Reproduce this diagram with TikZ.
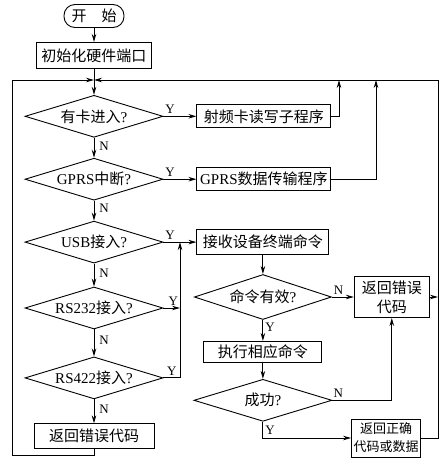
\documentclass[tikz,border=0pt]{standalone}
\usepackage{fontspec}
\setmainfont{Liberation Serif}
\newfontfamily\cjk{Noto Sans CJK SC}
\usetikzlibrary{arrows.meta,positioning,shapes.geometric}

\begin{document}
\begin{tikzpicture}[x=1pt,y=-1pt,line width=0.9pt,node distance=20pt and 33pt,
 box/.style={draw,align=center,minimum height=23pt,inner sep=2pt,font=\fontsize{15}{19}\selectfont},
 test/.style={draw,diamond,aspect=3.3,minimum width=138pt,minimum height=42pt,inner sep=1pt,font=\fontsize{15}{17}\selectfont},
 lbl/.style={font=\fontsize{13}{15}\selectfont,inner sep=2pt},
 >={Stealth[length=8pt,width=4.5pt]}]
\useasboundingbox (0,0) rectangle (446,464);
% left column
\node[draw,rounded corners=11pt,minimum width=60pt,minimum height=23pt,font=\fontsize{15}{17}\selectfont] (start) at (94,16) {\cjk 开\quad 始};
\node[box,minimum width=115pt,minimum height=26pt,below=14pt of start] (init) {\cjk 初始化硬件端口};
\node[test,below=26pt of init] (card) {{\cjk 有卡进入}?};
\node[test,below=20pt of card] (gprs) {GPRS{\cjk 中断}?};
\node[test,below=20pt of gprs] (usb) {USB{\cjk 接入}?};
\node[test,below=23pt of usb] (rsa) {RS232{\cjk 接入}?};
\node[test,below=27pt of rsa] (rsb) {RS422{\cjk 接入}?};
\node[box,minimum width=120pt,minimum height=25pt,below=24pt of rsb] (errL) {\cjk 返回错误代码};
% right column
\node[box,minimum width=134pt,right=of card] (rfid) {\cjk 射频卡读写子程序};
\node[box,minimum width=134pt,right=of gprs] (trans) {GPRS{\cjk 数据传输程序}};
\node[box,minimum width=132pt,minimum height=25pt,right=of usb] (recv) {\cjk 接收设备终端命令};
\node[test,minimum width=137pt,minimum height=45pt,below=19pt of recv] (valid) {{\cjk 命令有效}?};
\node[box,minimum width=118pt,minimum height=21pt,below=21pt of valid] (exec) {\cjk 执行相应命令};
\node[test,below=16pt of exec] (succ) {{\cjk 成功}?};
\node[box,minimum width=75pt,minimum height=41pt,right=22pt of valid] (errR) {{\cjk 返回错误}\\{\cjk 代码}};
\node[box,minimum width=69pt,minimum height=38pt,font=\fontsize{13}{18}\selectfont] (done) at (386,438) {{\cjk 返回正确}\\{\cjk 代码或数据}};
% loop corners
\coordinate (merge) at (94,80);
\coordinate (ltop) at (12,80);
\coordinate (lbot) at (12,455);
\coordinate (rtop) at (438,80);
\coordinate (up1) at (339,80);
\coordinate (up2) at (376,80);
\coordinate (join) at (180,0);
% connectors
\draw[->] (start) -- (init);
\draw[->] (init) -- (card);
\draw[->] (card) -- node[lbl,right,xshift=3pt,pos=0.4]{N} (gprs);
\draw[->] (gprs) -- node[lbl,right,xshift=3pt,pos=0.4]{N} (usb);
\draw[->] (usb) -- node[lbl,right,xshift=3pt,pos=0.4]{N} (rsa);
\draw[->] (rsa) -- node[lbl,right,xshift=3pt,pos=0.4]{N} (rsb);
\draw[->] (rsb) -- node[lbl,right,xshift=3pt,pos=0.4]{N} (errL);
\draw[->] (card) -- node[lbl,above,pos=0.2]{Y} (rfid);
\draw[->] (gprs) -- node[lbl,above,pos=0.2]{Y} (trans);
\draw[->] (usb) -- node[lbl,above,pos=0.2]{Y} (recv);
\draw[->] (rsa.east) -- node[lbl,above,pos=0.6]{Y} (rsa.east -| join);
\draw[->] (rsb.east) -| node[lbl,above,pos=0.25]{Y} (join |- usb.east);
\draw[->] (rfid.east) -| (up1);
\draw[->] (trans.east) -| (up2);
\draw[->] (recv) -- (valid);
\draw[->] (valid) -- node[lbl,above,pos=0.3]{N} (errR);
\draw[->] (valid) -- node[lbl,right,pos=0.35]{Y} (exec);
\draw[->] (exec) -- (succ);
\draw[->] (succ.east) -| node[lbl,above,pos=0.05]{N} (errR.south);
\draw[->] (succ.south) |- node[lbl,right,pos=0.25]{Y} (done.west);
\draw[->] (errR.east) -- (errR.east -| rtop);
\draw[->] (errL.south) |- (lbot) -- (ltop) -- (merge);
\draw[->] (done.east) -| (rtop) -- (merge);
\end{tikzpicture}
\end{document}
